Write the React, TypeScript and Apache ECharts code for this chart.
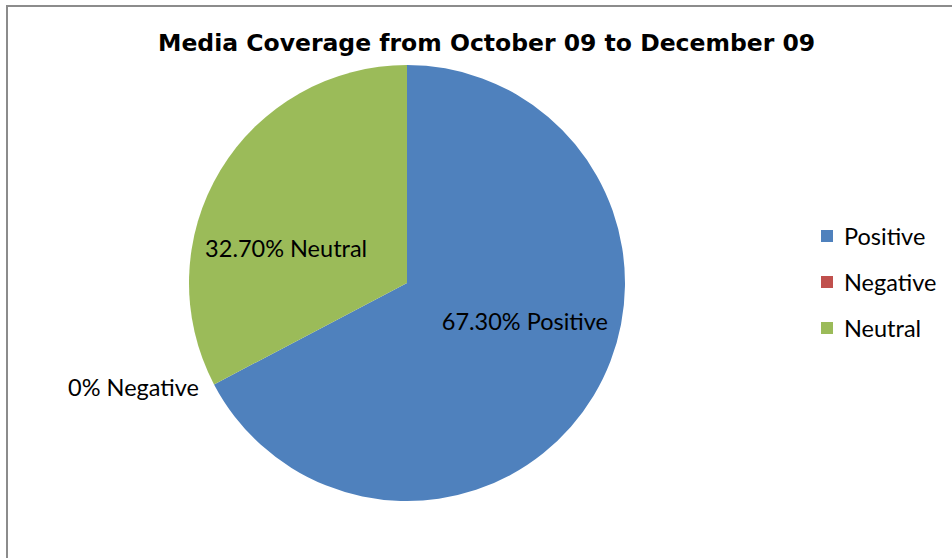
import React, { useEffect, useRef } from "react";
import * as echarts from "echarts";

const categories = ["Positive", "Negative", "Neutral"];
const percents = [67.3, 0, 32.7];
const colors = ["#4F81BD", "#C0504D", "#9BBB59"];
const titleText = "Media Coverage from October 09 to December 09";

const labelFont = "Lato, 'Open Sans', sans-serif";

export default function App() {
  const ref = useRef<HTMLDivElement>(null);
  useEffect(() => {
    if (!ref.current) return;
    const chart = echarts.init(ref.current, null, { renderer: "svg" });
    const labelOffsets = [
      { dx: 22, dy: -20 },
      { dx: -15, dy: 3 },
      { dx: -25, dy: 23 },
    ];
    chart.setOption({
      animation: false,
      backgroundColor: "#ffffff",
      title: {
        text: titleText,
        left: 153,
        top: 26,
        textStyle: {
          fontFamily: "'DejaVu Sans', sans-serif",
          fontWeight: "bold",
          fontSize: 23.5,
          color: "#000000",
        },
      },
      legend: {
        orient: "vertical",
        left: 821,
        top: 224,
        padding: 0,
        icon: "rect",
        itemWidth: 12,
        itemHeight: 12,
        itemGap: 22,
        data: categories,
        textStyle: {
          fontFamily: labelFont,
          fontSize: 23.5,
          lineHeight: 20,
          color: "#000000",
          padding: [0, 0, 0, 6],
        },
      },
      graphic: [
        {
          type: "rect",
          shape: { x: 7, y: 6, width: 1200, height: 1200 },
          style: { fill: "none", stroke: "#8c8c8c", lineWidth: 2 },
          silent: true,
        },
      ],
      series: [
        {
          type: "pie",
          center: [407, 283],
          radius: 218,
          startAngle: 90,
          clockwise: true,
          avoidLabelOverlap: false,
          itemStyle: { borderWidth: 0 },
          label: {
            show: true,
            position: "inside",
            fontFamily: labelFont,
            fontSize: 23.5,
            color: "#000000",
            formatter: (p: any) =>
              (p.value === 0 ? "0" : p.value.toFixed(2)) + "% " + p.name,
          },
          labelLine: { show: false },
          labelLayout: (params: any) => labelOffsets[params.dataIndex],
          emphasis: { disabled: true },
          data: categories.map((name, i) => ({
            name,
            value: percents[i],
            itemStyle: { color: colors[i] },
            label:
              percents[i] === 0
                ? { position: "outside", distanceToLabelLine: 0 }
                : undefined,
            labelLine: percents[i] === 0 ? { show: false, length: 0, length2: 0 } : undefined,
          })),
        },
      ],
    });
    return () => chart.dispose();
  }, []);
  return (
    <div
      ref={ref}
      style={{ position: "absolute", left: 0, top: 0, width: 952, height: 558 }}
    />
  );
}
